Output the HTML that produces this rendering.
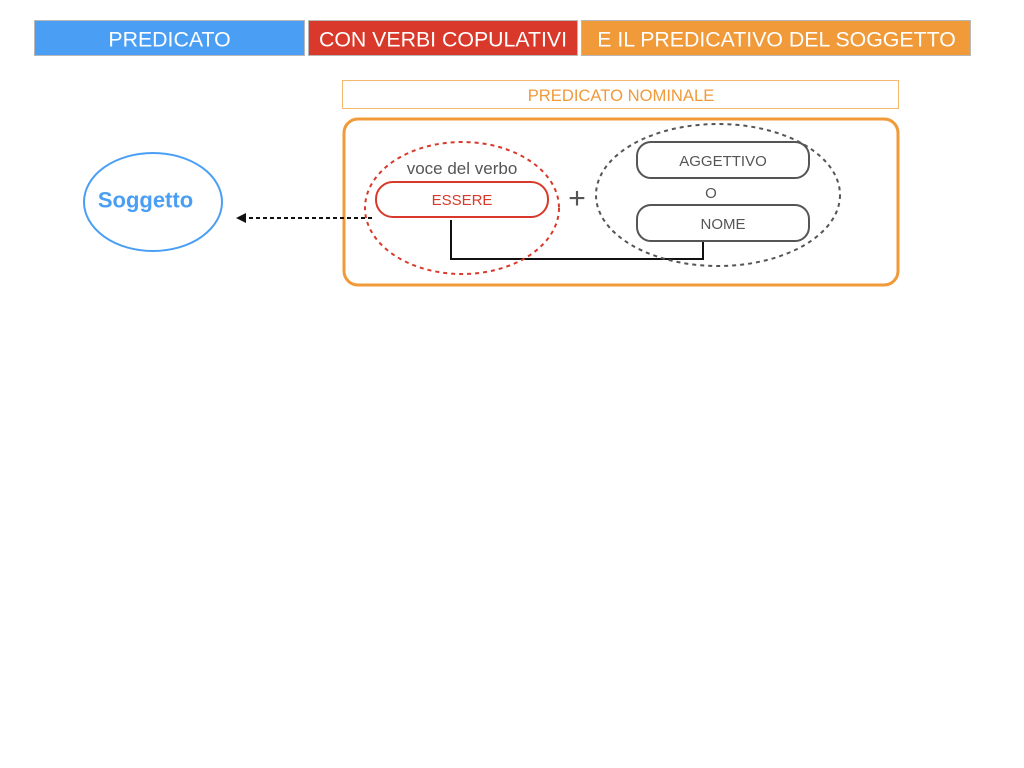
<!DOCTYPE html>
<html>
<head>
<meta charset="utf-8">
<style>
html,body{margin:0;padding:0;background:#fff;}
body{width:1024px;height:768px;overflow:hidden;}
svg{display:block;}
text{font-family:"Liberation Sans",sans-serif;}
</style>
</head>
<body>
<svg width="1024" height="768" viewBox="0 0 1024 768" xmlns="http://www.w3.org/2000/svg">
  <!-- header bars -->
  <rect x="34.5" y="20.5" width="270" height="35" fill="#4a9ff5" stroke="#b8b8b8" stroke-width="1"/>
  <text x="169.5" y="46.5" font-size="21.3" fill="#fff" text-anchor="middle">PREDICATO</text>
  <rect x="308.5" y="20.5" width="269" height="35" fill="#d9392a" stroke="#b8b8b8" stroke-width="1"/>
  <text x="443" y="46.5" font-size="21.3" fill="#fff" text-anchor="middle">CON VERBI COPULATIVI</text>
  <rect x="581.5" y="20.5" width="389" height="35" fill="#f09a3a" stroke="#b8b8b8" stroke-width="1"/>
  <text x="776.5" y="46.5" font-size="21.3" fill="#fff" text-anchor="middle">E IL PREDICATIVO DEL SOGGETTO</text>

  <!-- predicato nominale label -->
  <rect x="342.5" y="80.5" width="556" height="28" fill="#fff" stroke="#f5b871" stroke-width="1"/>
  <text x="621" y="101" font-size="16.6" fill="#f09a3a" text-anchor="middle">PREDICATO NOMINALE</text>

  <!-- orange container -->
  <rect x="344" y="119" width="554" height="166" rx="14" ry="14" fill="none" stroke="#f09a3a" stroke-width="3"/>

  <!-- connector -->
  <polyline points="451,220 451,259 703,259 703,241" fill="none" stroke="#111" stroke-width="2"/>

  <!-- red dashed ellipse -->
  <ellipse cx="462" cy="208" rx="97" ry="66" fill="none" stroke="#d9392a" stroke-width="2" stroke-dasharray="4,4"/>
  <text x="462" y="174" font-size="17" fill="#555" text-anchor="middle">voce del verbo</text>
  <rect x="376" y="182" width="172" height="35" rx="17" ry="17" fill="#fff" stroke="#d9392a" stroke-width="2"/>
  <text x="462" y="205" font-size="15" fill="#d9392a" text-anchor="middle">ESSERE</text>

  <!-- plus -->
  <text x="577" y="208" font-size="30" fill="#555" text-anchor="middle">+</text>

  <!-- grey dashed ellipse -->
  <ellipse cx="718" cy="195" rx="122" ry="71" fill="none" stroke="#555" stroke-width="2" stroke-dasharray="4,4"/>
  <rect x="637" y="142" width="172" height="36" rx="14" ry="14" fill="#fff" stroke="#555" stroke-width="2"/>
  <text x="723" y="166" font-size="15" fill="#555" text-anchor="middle">AGGETTIVO</text>
  <text x="711" y="198" font-size="15" fill="#555" text-anchor="middle">O</text>
  <rect x="637" y="205" width="172" height="36" rx="14" ry="14" fill="#fff" stroke="#555" stroke-width="2"/>
  <text x="723" y="229" font-size="15" fill="#555" text-anchor="middle">NOME</text>

  <!-- dashed arrow -->
  <line x1="372" y1="218" x2="245" y2="218" stroke="#111" stroke-width="2" stroke-dasharray="4,3"/>
  <polygon points="236,218 246,213 246,223" fill="#111"/>

  <!-- Soggetto -->
  <ellipse cx="153" cy="202" rx="69" ry="49" fill="none" stroke="#4a9ff5" stroke-width="2"/>
  <text x="145.5" y="207.5" font-size="22" font-weight="bold" fill="#4a9ff5" text-anchor="middle">Soggetto</text>
</svg>
</body>
</html>
